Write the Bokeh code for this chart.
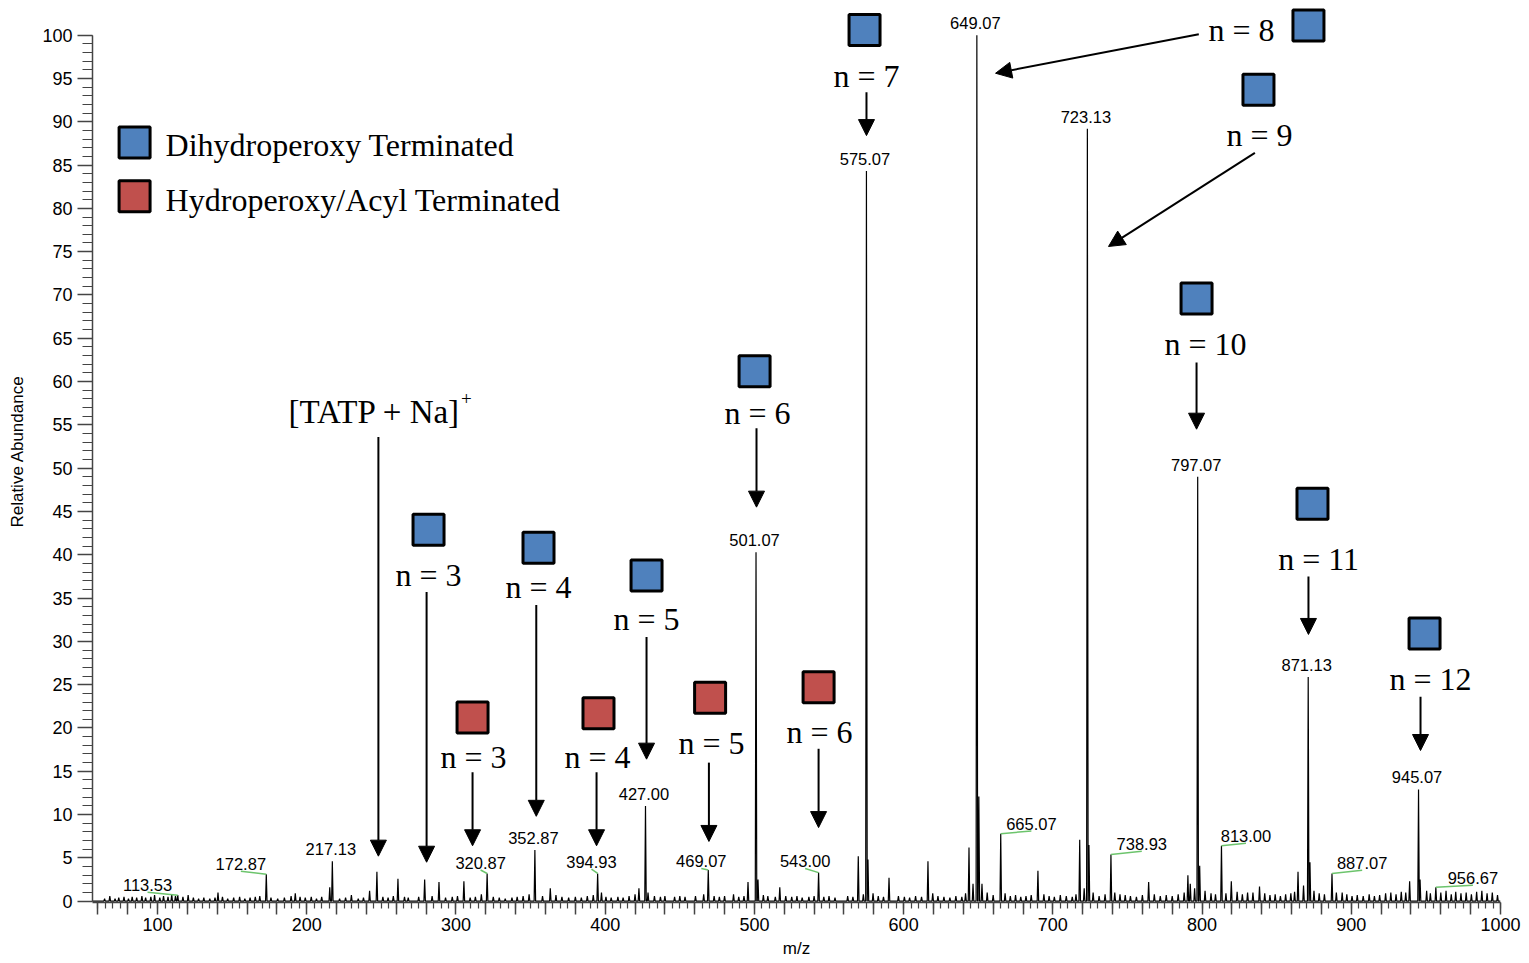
import numpy as np
from bokeh.plotting import figure
from bokeh.models import (Range1d, FixedTicker, SingleIntervalTicker, Arrow,
                          NormalHead, ColumnDataSource)
from bokeh.core.properties import value
from bokeh.embed import file_html
from bokeh.resources import INLINE

# ---------------- data ----------------
# labelled peaks (m/z, relative abundance)
label_mz = [113.53, 172.87, 217.13, 320.87, 352.87, 394.93, 427.00, 469.07,
            501.07, 543.00, 575.07, 649.07, 665.07, 723.13, 738.93, 797.07,
            813.00, 871.13, 887.07, 945.07, 956.67]
label_int = [0.7, 3.1, 4.6, 3.2, 5.9, 3.2, 11.0, 3.6,
             40.3, 3.3, 84.3, 100.0, 7.8, 89.2, 5.4, 49.0,
             6.4, 25.9, 3.2, 12.9, 1.6]

# other resolved peaks
minor_mz = [140.5, 192.3, 215.4, 229.9, 242.1, 247.0, 261.1, 279.0, 288.6,
            305.3, 363.2, 397.5, 422.6, 428.7, 495.7, 502.4, 517.0, 569.6,
            576.1, 590.2, 616.3, 643.8, 646.5, 650.4, 652.5, 690.0, 718.0,
            724.2, 764.2, 790.5, 792.1, 798.4, 819.6, 834.1, 864.3, 872.3,
            939.1, 946.1]
minor_int = [1.0, 0.9, 1.6, 0.7, 1.2, 3.4, 2.6, 2.5, 2.2,
             2.3, 1.5, 1.0, 1.5, 1.0, 2.2, 2.5, 1.6, 5.2,
             4.8, 2.7, 4.6, 6.2, 2.0, 12.1, 2.0, 3.5, 7.1,
             6.5, 2.2, 3.0, 2.0, 4.1, 2.3, 1.0, 3.4, 4.5,
             2.3, 2.5]

# baseline chemical noise
noise_mz = [64.5, 68.0, 71.5, 74.0, 77.5, 80.5, 83.0, 86.0, 89.5, 92.0, 95.5,
            98.0, 101.5, 104.0, 107.0, 109.5, 112.0, 117.0, 120.5, 124.0,
            127.5, 131.0, 135.0, 138.5, 143.5, 147.0, 151.0, 155.0, 158.5,
            162.0, 165.5, 168.5, 176.0, 180.5, 185.0, 189.5, 195.5, 199.0,
            203.0, 206.5, 210.0, 222.0, 226.0, 234.5, 238.0, 251.0, 254.5,
            258.0, 265.5, 268.0, 275.0, 284.0, 293.0, 297.5, 301.0, 309.5,
            313.0, 317.0, 325.0, 329.0, 333.0, 337.5, 341.0, 345.0, 349.0,
            358.0, 367.0, 371.0, 375.5, 380.0, 384.0, 388.0, 392.0, 400.5,
            404.0, 408.5, 412.0, 416.0, 420.0, 433.0, 437.0, 440.0, 446.5,
            450.0, 453.5, 460.5, 466.0, 473.0, 476.5, 480.0, 486.0, 489.5,
            493.0, 506.0, 509.0, 514.0, 521.0, 525.0, 528.5, 532.0, 536.5,
            540.0, 546.5, 550.0, 554.0, 562.5, 566.0, 573.0, 579.5, 583.0,
            586.5, 596.5, 600.5, 604.0, 608.0, 612.0, 619.5, 623.0, 627.0,
            631.0, 635.0, 639.0, 641.5, 656.0, 660.0, 668.0, 671.5, 675.0,
            678.5, 682.0, 685.5, 694.0, 697.5, 701.0, 705.0, 709.0, 713.0,
            715.5, 721.0, 727.0, 731.0, 735.0, 741.5, 745.0, 748.5, 752.0,
            756.0, 760.0, 768.0, 772.0, 776.0, 780.0, 784.0, 788.0, 795.0,
            802.0, 806.0, 809.0, 816.0, 823.5, 827.0, 830.5, 838.5, 842.0,
            845.5, 849.0, 852.5, 856.0, 859.5, 862.0, 868.0, 875.0, 878.5,
            882.0, 890.0, 893.9, 897.0, 900.5, 904.0, 908.0, 912.0, 915.5,
            919.0, 923.0, 926.5, 930.0, 933.5, 936.5, 950.5, 953.0, 960.0,
            963.5, 967.0, 970.0, 973.5, 977.0, 980.5, 984.0, 987.5, 991.0,
            994.5, 998.0]
noise_int = [0.3, 0.6, 0.3, 0.4, 0.5, 0.3, 0.5, 0.4, 0.6, 0.4, 0.5,
             0.7, 0.4, 0.6, 0.5, 0.8, 0.6, 0.5, 0.7, 0.4,
             0.3, 0.4, 0.3, 0.4, 0.5, 0.3, 0.4, 0.5, 0.3,
             0.4, 0.5, 0.6, 0.4, 0.3, 0.4, 0.6, 0.5, 0.4,
             0.5, 0.3, 0.5, 0.3, 0.4, 0.3, 0.4, 0.5, 0.4,
             0.6, 0.5, 0.4, 0.5, 0.6, 0.4, 0.5, 0.6, 0.4,
             0.5, 0.8, 0.5, 0.4, 0.3, 0.4, 0.5, 0.6, 0.8,
             0.6, 0.7, 0.5, 0.4, 0.5, 0.4, 0.6, 0.7, 0.5,
             0.4, 0.5, 0.4, 0.6, 0.8, 0.6, 0.5, 0.6, 0.5,
             0.6, 0.5, 0.6, 0.8, 0.6, 0.5, 0.6, 0.8, 0.5,
             0.6, 0.7, 0.6, 0.5, 0.6, 0.5, 0.6, 0.4, 0.5,
             0.6, 0.5, 0.6, 0.4, 0.6, 0.5, 0.8, 0.9, 0.6,
             0.5, 0.6, 0.5, 0.4, 0.6, 0.5, 0.9, 0.6, 0.5,
             0.4, 0.6, 0.5, 0.9, 1.0, 0.7, 0.9, 0.6, 0.7,
             0.5, 0.6, 0.7, 0.8, 0.6, 0.5, 0.7, 0.6, 0.5,
             0.8, 1.5, 1.0, 0.6, 0.8, 1.0, 0.8, 0.7, 0.6,
             0.5, 0.7, 0.8, 0.6, 0.7, 0.6, 0.8, 1.0, 1.5,
             1.2, 0.9, 0.8, 0.9, 1.1, 0.8, 1.0, 1.7, 0.9,
             0.7, 0.8, 0.6, 0.8, 0.9, 1.1, 1.8, 1.2, 0.9,
             0.8, 1.0, 1.0, 0.8, 0.6, 0.7, 0.6, 0.8, 0.6,
             0.7, 0.9, 1.0, 0.8, 1.1, 1.0, 1.2, 0.9, 1.0,
             1.2, 0.8, 1.1, 0.9, 1.0, 0.8, 1.1, 1.2, 0.9,
             1.0, 0.7]

x_major = [60, 80, 100, 120, 140, 160, 180, 200, 220, 240, 260, 280, 300,
           320, 340, 360, 380, 400, 420, 440, 460, 480, 500, 520, 540, 560,
           580, 600, 620, 640, 660, 680, 700, 720, 740, 760, 780, 800, 820,
           840, 860, 880, 900, 920, 940, 960, 980, 1000]
x_labels = {100: "100", 200: "200", 300: "300", 400: "400", 500: "500",
            600: "600", 700: "700", 800: "800", 900: "900", 1000: "1000"}

blue_n = ["n = 3", "n = 4", "n = 5", "n = 6", "n = 7", "n = 8", "n = 9",
          "n = 10", "n = 11", "n = 12"]
red_n = ["n = 3", "n = 4", "n = 5", "n = 6"]

# ---------------- layout of annotations ----------------
blue_box_x = [281.6, 355.3, 427.7, 500.1, 573.8, 871.3, 837.8, 796.3, 874.0, 949.1]
blue_box_y = [42.9, 40.8, 37.6, 61.2, 100.6, 101.1, 93.7, 69.6, 45.9, 30.9]
blue_txt_x = [281.6, 355.3, 427.7, 502.1, 575.1, 826.4, 838.5, 802.3, 878.1, 953.1]
blue_txt_y = [37.7, 36.3, 32.6, 56.4, 95.3, 100.6, 88.5, 64.3, 39.5, 25.7]
red_box_x = [311.1, 395.5, 470.3, 543.0]
red_box_y = [21.2, 21.7, 23.5, 24.7]
red_txt_x = [311.8, 394.9, 471.3, 543.6]
red_txt_y = [16.7, 16.7, 18.3, 19.5]

# arrows: (x_start, y_start, x_end, y_end)
arrows = [
    (248.0, 53.6, 248.0, 5.2),    # [TATP + Na]+
    (280.3, 35.7, 280.3, 4.5),    # blue n = 3
    (353.8, 34.2, 353.8, 9.8),    # blue n = 4
    (427.7, 30.5, 427.7, 16.4),   # blue n = 5
    (501.4, 54.6, 501.4, 45.5),   # blue n = 6
    (575.1, 93.4, 575.1, 88.4),   # blue n = 7
    (797.8, 100.1, 661.6, 95.6),  # blue n = 8
    (835.4, 86.4, 737.3, 75.6),   # blue n = 9
    (796.3, 62.2, 796.3, 54.5),   # blue n = 10
    (871.3, 37.5, 871.3, 30.8),   # blue n = 11
    (946.4, 23.6, 946.4, 17.4),   # blue n = 12
    (311.1, 14.9, 311.1, 6.4),    # red n = 3
    (394.2, 14.9, 394.2, 6.4),    # red n = 4
    (469.5, 16.0, 469.5, 6.9),    # red n = 5
    (543.0, 17.6, 543.0, 8.5),    # red n = 6
]

# labels sitting directly above their peak
direct = ["217.13", "352.87", "427.00", "501.07", "575.07", "649.07",
          "723.13", "797.07", "871.13", "945.07"]
# labels moved aside, joined to their peak by a leader: text -> (label x, leader y)
leader = {"113.53": (93.3, 1.04), "172.87": (155.8, 3.46), "320.87": (316.5, 3.6),
          "394.93": (390.8, 3.7), "469.07": (464.4, 3.77), "543.00": (534.0, 3.77),
          "665.07": (685.6, 8.1), "738.93": (759.6, 5.76), "813.00": (829.4, 6.7),
          "887.07": (907.3, 3.57), "956.67": (981.5, 1.84)}

BLUE = "#4f81bd"
RED = "#c0504d"
SANS = "Liberation Sans"
SERIF = "Liberation Serif"
SERIF_SIZE = "32px"
PEAK_SIZE = "16.5px"

# ---------------- figure ----------------
p = figure(frame_width=1408, frame_height=902, output_backend="svg",
           toolbar_location=None, x_range=Range1d(56.4, 1000),
           y_range=Range1d(-0.15, 104.0),
           min_border_left=92, min_border_right=29, min_border_top=0,
           min_border_bottom=61)
p.outline_line_color = None
p.grid.visible = False
p.background_fill_color = "white"

# spectrum trace built from the peak table
peaks = sorted(list(zip(label_mz, label_int)) + list(zip(minor_mz, minor_int))
               + list(zip(noise_mz, noise_int)))
HW = 0.5
xs, ys = [56.4], [0.0]
for m, h in peaks:
    xs += [m - HW, m, m + HW]
    ys += [0.0, h, 0.0]
xs.append(1000.0)
ys.append(0.0)
p.line(xs, ys, line_color="black", line_width=1.2)

# peak labels
lab_int = dict(zip([f"{m:.2f}" for m in label_mz], label_int))
lab_mz = dict(zip([f"{m:.2f}" for m in label_mz], label_mz))
d_src = ColumnDataSource(dict(x=[lab_mz[t] for t in direct],
                              y=[lab_int[t] for t in direct], t=direct))
p.text(x="x", y="y", text="t", source=d_src, text_font=value(SANS),
       text_font_size=PEAK_SIZE, text_align="center", text_baseline="middle",
       x_offset=-1.5, y_offset=-12, text_color="black")

ltxt = list(leader.keys())
l_src = ColumnDataSource(dict(
    t=ltxt,
    lx=[leader[t][0] for t in ltxt],
    ly=[leader[t][1] for t in ltxt],
    px=[lab_mz[t] for t in ltxt],
    py=[lab_int[t] for t in ltxt]))
p.segment(x0="px", y0="py", x1="lx", y1="ly", source=l_src,
          line_color="#6cc46c", line_width=1.5)
p.text(x="lx", y="ly", text="t", source=l_src, text_font=value(SANS),
       text_font_size=PEAK_SIZE, text_align="center", text_baseline="middle",
       y_offset=-7.5, text_color="black")

# arrows
for x0, y0, x1, y1 in arrows:
    p.add_layout(Arrow(x_start=x0, y_start=y0, x_end=x1, y_end=y1,
                       line_color="black", line_width=2,
                       end=NormalHead(size=16, fill_color="black",
                                      line_color="black", line_width=1)))

# series boxes and n labels
p.scatter(blue_box_x, blue_box_y, marker="square", size=31, fill_color=BLUE,
          line_color="black", line_width=3)
p.scatter(red_box_x, red_box_y, marker="square", size=31, fill_color=RED,
          line_color="black", line_width=3)
p.text(blue_txt_x, blue_txt_y, text=blue_n, text_font=value(SERIF),
       text_font_size=SERIF_SIZE, text_align="center", text_baseline="middle",
       text_color="black")
p.text(red_txt_x, red_txt_y, text=red_n, text_font=value(SERIF),
       text_font_size=SERIF_SIZE, text_align="center", text_baseline="middle",
       text_color="black")

# [TATP + Na]+ tag
p.text([187.8], [56.5], text=["[TATP + Na]"], text_font=value(SERIF),
       text_font_size="33px", text_align="left", text_baseline="middle",
       text_color="black")
p.text([303.3], [58.0], text=["+"], text_font=value(SERIF),
       text_font_size="19px", text_align="left", text_baseline="middle",
       text_color="#000000")

# legend
p.scatter([84.6], [87.6], marker="square", size=31, fill_color=BLUE,
          line_color="black", line_width=3)
p.scatter([84.6], [81.4], marker="square", size=31, fill_color=RED,
          line_color="black", line_width=3)
p.text([105.4, 105.4], [87.3, 81.0],
       text=["Dihydroperoxy Terminated", "Hydroperoxy/Acyl Terminated"],
       text_font=value(SERIF), text_font_size=SERIF_SIZE, text_align="left",
       text_baseline="middle", text_color="black")

# axes
xa = p.xaxis[0]
xa.ticker = FixedTicker(ticks=x_major, minor_ticks=list(range(60, 1001, 5)))
xa.major_label_overrides = {t: x_labels.get(t, "") for t in x_major}
xa.major_tick_out = 12
xa.major_tick_in = 0
xa.minor_tick_out = 6
xa.minor_tick_in = 0
xa.major_label_standoff = 3
xa.major_label_text_font = SANS
xa.major_label_text_font_size = "18px"
xa.major_label_text_color = "black"
xa.axis_line_color = "#444444"
xa.major_tick_line_color = "#444444"
xa.minor_tick_line_color = "#444444"
xa.axis_line_width = 1.5
xa.major_tick_line_width = 1.5
xa.minor_tick_line_width = 1.2
xa.axis_label = "m/z"
xa.axis_label_standoff = 5
xa.axis_label_text_font = SANS
xa.axis_label_text_font_size = "17px"
xa.axis_label_text_font_style = "normal"
xa.axis_label_text_color = "black"

ya = p.yaxis[0]
ya.ticker = SingleIntervalTicker(interval=5, num_minor_ticks=5)
ya.bounds = (0, 100)
ya.major_tick_out = 15
ya.major_tick_in = 0
ya.minor_tick_out = 10
ya.minor_tick_in = 0
ya.major_label_standoff = 5
ya.major_label_text_font = SANS
ya.major_label_text_font_size = "18px"
ya.major_label_text_color = "black"
ya.axis_line_color = "#444444"
ya.major_tick_line_color = "#444444"
ya.minor_tick_line_color = "#444444"
ya.axis_line_width = 1.5
ya.major_tick_line_width = 1.5
ya.minor_tick_line_width = 1.2
ya.axis_label = "Relative Abundance"
ya.axis_label_standoff = 12
ya.axis_label_text_font = SANS
ya.axis_label_text_font_size = "17px"
ya.axis_label_text_font_style = "normal"
ya.axis_label_text_color = "black"

open("out.html", "w").write(file_html(p, INLINE))
